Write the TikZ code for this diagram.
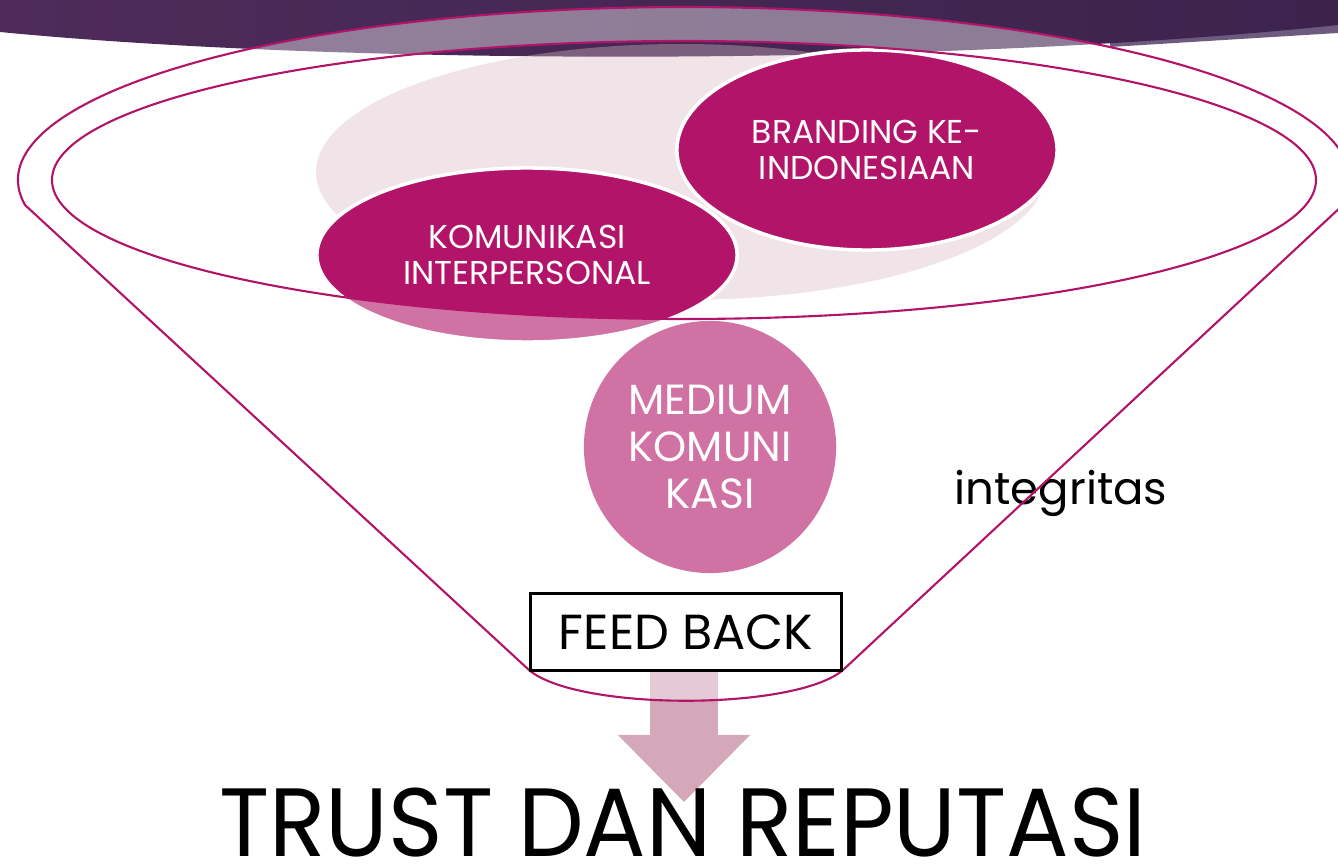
\documentclass[tikz,border=0pt]{standalone}
\usepackage{fontspec}
\setmainfont{Poppins}
\usepackage{graphicx}
\usetikzlibrary{shapes.geometric,arrows.meta}

\definecolor{mag}{RGB}{177,20,104}
\definecolor{pinkarr}{RGB}{212,168,185}
\definecolor{haze}{RGB}{216,185,195}
\definecolor{bandL}{RGB}{78,43,90}
\definecolor{bandM}{RGB}{108,47,99}
\definecolor{bandR}{RGB}{60,35,78}
\definecolor{wedge}{RGB}{110,90,126}

\begin{document}
\begin{tikzpicture}[x=0.01cm,y=-0.01cm,
    blob/.style={ellipse, fill=mag, draw=white, line width=1pt, text=white, align=center, inner sep=0pt, font=\fontsize{9.4}{10.2}\selectfont},
    disc/.style={circle, fill=mag, text=white, align=center, inner sep=0pt, font=\fontsize{12}{13.4}\selectfont},
    fbbox/.style={rectangle, draw=black, line width=0.85pt, fill=white, inner sep=0pt},
    rim/.style={mag, line width=0.6pt}]
    \useasboundingbox (0,0) rectangle (1338,864);

    % top band
    \fill[wedge] (1110,47) -- (1338,33) -- (1338,10) -- (1110,35) -- cycle;
    \shade[left color=bandL, middle color=bandM, right color=bandR] (0,0) -- (1338,0) -- (1338,25) .. controls (950,66) and (350,66) .. (0,32) -- cycle;

    % ellipses
    \fill[haze, opacity=0.38] (681,172) ellipse [x radius=365, y radius=128];
    \node[blob, minimum width=3.8cm, minimum height=2cm] (BK) at (867,150) {BRANDING KE-\\INDONESIAAN};
    \node[blob, minimum width=4.2cm, minimum height=1.74cm] (KI) at (527,255) {KOMUNIKASI\\INTERPERSONAL};
    \node[disc, minimum size=2.52cm] (MK) at (710,447) {MEDIUM\\KOMUNI\\KASI};

    \coordinate (fbfoot) at (684,660);
    \coordinate (tip) at (684,802);
    \draw[pinkarr, line width=0.67cm, -{Triangle[width=1.32cm, length=0.67cm, line width=0pt]}] (fbfoot) -- (tip);

    % funnel
    \fill[white, fill opacity=0.4, even odd rule] (25,205) arc[start angle=171.7, end angle=368.3, x radius=666, y radius=173] -- (843,670) .. controls (795,711) and (577,711) .. (529,670) -- cycle
        (684,180) ellipse [x radius=632, y radius=139];
    \node[font=\fontsize{12.8}{14}\selectfont, anchor=base, inner sep=0pt] (IN) at (1061,505) {integritas};
    \draw[rim] (25,205) arc[start angle=171.7, end angle=368.3, x radius=666, y radius=173] -- (843,670) .. controls (795,711) and (577,711) .. (529,670) -- cycle;
    \draw[rim] (684,180) ellipse [x radius=632, y radius=139];

    \node[fbbox, minimum width=3.1cm, minimum height=0.76cm, font=\fontsize{14}{16}\selectfont] (FB) at (686,632) {FEED BACK};
    \node[font=\fontsize{27.6}{30}\selectfont, anchor=base, inner sep=0pt] (TR) at (683,857) {\scalebox{0.956}[1]{TRUST DAN REPUTASI}};
\end{tikzpicture}
\end{document}
